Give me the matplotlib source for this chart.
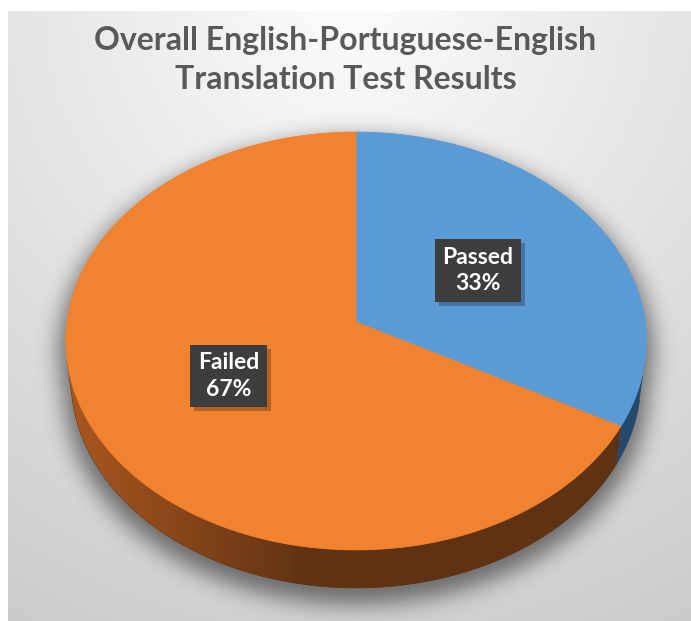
import numpy as np
import matplotlib
matplotlib.use("Agg")
import matplotlib.pyplot as plt
from matplotlib.path import Path
from matplotlib.patches import PathPatch, Rectangle
from matplotlib.colors import to_rgb

# ---------------- data ----------------
categories = ["Passed", "Failed"]
values = [33, 67]
title = "Overall English-Portuguese-English\nTranslation Test Results"

# ---------------- style ----------------
top_colors = ["#5B9BD5", "#F1822F"]
side_colors = ["#24496B", "#5F3213"]
side_light = "#A8561F"
W, H, DPI = 691, 621, 100

# perspective camera for the 3D pie
ELEV = np.radians(45.8)
DIST = 7.67
THICK = 0.1955
cE, sE = np.cos(ELEV), np.sin(ELEV)


def proj(x, yd, z):
    d = DIST - (yd * cE + z * sE)
    return x * DIST / d, (-yd * sE + z * cE) * DIST / d


def rim(t0, t1, z, n=200):
    th = np.radians(np.linspace(t0, t1, n))
    return proj(np.sin(th), -np.cos(th), z)


fig = plt.figure(figsize=(W / DPI, H / DPI), dpi=DPI)
fig.patch.set_facecolor("white")

# ---------------- background gradient ----------------
bg = fig.add_axes([8 / W, 0, 1 - 8 / W, 1 - 11 / H])
bg.axis("off")
yy, xx = np.mgrid[0:610, 0:683]
r = np.hypot(xx - 340, yy + 10) / 720
t = np.clip(r, 0, 1)
g = (252 - 50 * t) / 255
bg.imshow(np.dstack([g, g, g]), aspect="auto", extent=[0, 1, 0, 1], interpolation="bilinear")
bg.set_xlim(0, 1)
bg.set_ylim(0, 1)

# ---------------- pie axes ----------------
S = 289.0
CX, CY = 356, 322
ax = fig.add_axes([0, 0, 1, 1])
ax.set_xlim(-CX / S, (W - CX) / S)
ax.set_ylim(-(H - CY) / S, CY / S)
ax.axis("off")
ax.patch.set_alpha(0)

fr = np.array(values, float) / sum(values)
edges = np.concatenate([[0], np.cumsum(fr) * 360])

th_vis = np.degrees(np.arccos(-1 / (DIST * cE)))
vis0, vis1 = th_vis, 360 - th_vis

# silhouette for shadow
sx, sy = rim(vis0, vis1, -THICK, 200)
ox, oy = rim(vis1, 360 + vis0, 0, 300)
sil_x = np.concatenate([sx, ox])
sil_y = np.concatenate([sy, oy])
sil = Path(np.column_stack([sil_x * 1.025, sil_y * 1.025 - 0.035]))

gx = np.linspace(-CX / S, (W - CX) / S, W)
gy = np.linspace(CY / S, -(H - CY) / S, H)
GX, GY = np.meshgrid(gx, gy)
mask = sil.contains_points(np.column_stack([GX.ravel(), GY.ravel()])).reshape(H, W).astype(float)
sig = 11
k = np.exp(-0.5 * (np.arange(-3 * sig, 3 * sig + 1) / sig) ** 2)
k /= k.sum()
blur = np.apply_along_axis(lambda v: np.convolve(v, k, mode="same"), 0, mask)
blur = np.apply_along_axis(lambda v: np.convolve(v, k, mode="same"), 1, blur)
shadow = np.zeros((H, W, 4))
shadow[..., 3] = blur * 0.5
ax.imshow(shadow, extent=[gx[0], gx[-1], gy[-1], gy[0]], zorder=1, interpolation="bilinear")

# sides
for i in range(len(values)):
    a, b = max(edges[i], vis0), min(edges[i + 1], vis1)
    if a >= b:
        continue
    ux, uy = rim(a, b, 0)
    lx, ly = rim(b, a, -THICK)
    px = np.concatenate([ux, lx])
    py = np.concatenate([uy, ly])
    patch = PathPatch(Path(np.column_stack([px, py])), facecolor=side_colors[i],
                      edgecolor=side_colors[i], lw=0.5, zorder=2)
    ax.add_patch(patch)
    if i == 1:
        c0 = np.array(to_rgb(side_light))
        c1 = np.array(to_rgb(side_colors[i]))
        tt = np.clip((gx - (-0.972)) / (-0.159 + 0.972), 0, 1)
        row = c0[None, :] * (1 - tt[:, None]) + c1[None, :] * tt[:, None]
        img = np.repeat(row[None, :, :], 2, axis=0)
        im = ax.imshow(img, extent=[gx[0], gx[-1], gy[-1], gy[0]], aspect="auto",
                       zorder=2.5, interpolation="bilinear")
        im.set_clip_path(patch)

# top faces
for i in range(len(values)):
    ux, uy = rim(edges[i], edges[i + 1], 0)
    px = np.concatenate([[0], ux, [0]])
    py = np.concatenate([[0], uy, [0]])
    ax.fill(px, py, facecolor=top_colors[i], edgecolor=top_colors[i], lw=0.6, zorder=3)

# labels
labels = []
for i, cat in enumerate(categories):
    mid = np.radians((edges[i] + edges[i + 1]) / 2)
    lx, ly = proj(0.5 * np.sin(mid), -0.5 * np.cos(mid), 0)
    txt = f"{cat}\n{values[i]}%"
    tobj = ax.text(lx, ly, txt, ha="center", va="center", fontsize=16.5, fontweight="bold",
                   family="Lato", color="white", linespacing=1.3,
                   bbox=dict(boxstyle="square,pad=0.33", facecolor="#3D3D3D",
                             edgecolor="none"), zorder=5)
    labels.append(tobj)

fig.text(0.5, 1 - 26 / H, title, ha="center", va="top", fontsize=23,
         fontweight="bold", family="Lato", color="#595959", linespacing=1.4)

# drop shadows behind label boxes
fig.canvas.draw()
inv = ax.transData.inverted()
for tobj in labels:
    bb = tobj.get_bbox_patch().get_window_extent()
    (x0, y0), (x1, y1) = inv.transform([[bb.x0 + 4, bb.y0 - 4], [bb.x1 + 4, bb.y1 - 4]])
    ax.add_patch(Rectangle((x0, y0), x1 - x0, y1 - y0, facecolor="black", alpha=0.25,
                           edgecolor="none", zorder=4))

fig.savefig("out.png", dpi=DPI)
